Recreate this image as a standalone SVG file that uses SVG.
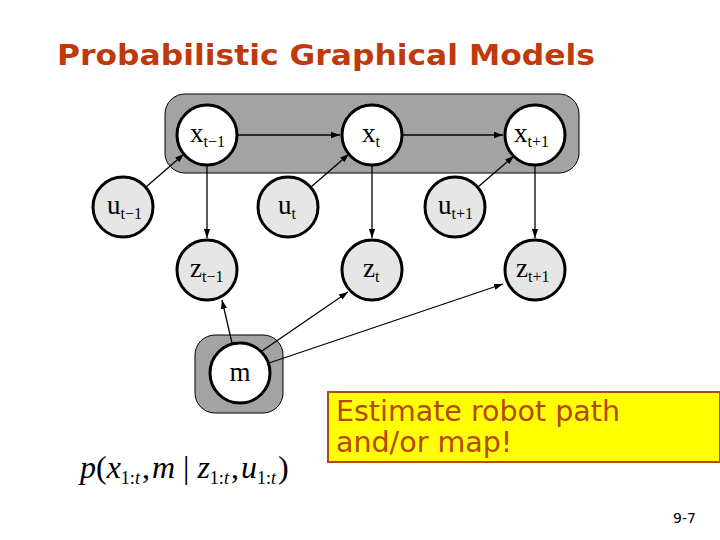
<svg xmlns="http://www.w3.org/2000/svg" width="720" height="540" viewBox="0 0 720 540">
<style>
.n{stroke:#000;stroke-width:3}
.w{fill:#fff}
.g{fill:#e6e6e6}
.lb{font-family:"Liberation Serif",serif;font-size:27px;fill:#000}
.sb{font-size:16px}
.e{stroke:#000;stroke-width:1.3;fill:none;marker-end:url(#ah)}
.sh{fill:#a3a3a3;stroke:#000;stroke-width:1}
.i{font-style:italic}
.s{font-size:18px}
</style>
<defs>
<marker id="ah" viewBox="0 0 10 10" refX="10" refY="5" markerWidth="9" markerHeight="9" markerUnits="userSpaceOnUse" orient="auto">
<path d="M0,1.5 L10,5 L0,8.5 z" fill="#000"/>
</marker>
</defs>
<rect width="720" height="540" fill="#fff"/>
<text x="57" y="65" font-family="Verdana,'DejaVu Sans',sans-serif" font-weight="bold" font-size="28" fill="#c0390b" textLength="538" lengthAdjust="spacingAndGlyphs">Probabilistic Graphical Models</text>
<rect class="sh" x="165" y="94" width="414" height="79" rx="20"/>
<rect class="sh" x="195" y="335" width="88" height="78" rx="20"/>
<g id="connectors">
<line class="e" x1="238" y1="135" x2="340" y2="135"/>
<line class="e" x1="403" y1="135" x2="503" y2="135"/>
<line class="e" x1="207" y1="166" x2="207" y2="238"/>
<line class="e" x1="372" y1="166" x2="372" y2="238"/>
<line class="e" x1="535" y1="166" x2="535" y2="238"/>
<line class="e" x1="146" y1="187" x2="184" y2="154"/>
<line class="e" x1="311" y1="187" x2="349" y2="154"/>
<line class="e" x1="478" y1="187" x2="514" y2="156"/>
<line class="e" x1="232" y1="343" x2="222" y2="300"/>
<line class="e" x1="262" y1="351" x2="348" y2="292"/>
<line class="e" x1="269" y1="363" x2="503" y2="284"/>
</g>
<g id="x_tm1"><circle class="n w" cx="207" cy="135" r="30"/><text class="lb" x="190" y="142">x<tspan class="sb" dy="5">t−1</tspan></text></g>
<g id="x_t"><circle class="n w" cx="372" cy="135" r="30"/><text class="lb" x="362" y="142">x<tspan class="sb" dy="5">t</tspan></text></g>
<g id="x_tp1"><circle class="n w" cx="535" cy="135" r="30"/><text class="lb" x="514" y="142">x<tspan class="sb" dy="5">t+1</tspan></text></g>
<g id="u_tm1"><circle class="n g" cx="123" cy="207" r="30"/><text class="lb" x="107" y="214">u<tspan class="sb" dy="5">t−1</tspan></text></g>
<g id="u_t"><circle class="n g" cx="288" cy="207" r="30"/><text class="lb" x="278" y="214">u<tspan class="sb" dy="5">t</tspan></text></g>
<g id="u_tp1"><circle class="n g" cx="455" cy="207" r="30"/><text class="lb" x="438" y="214">u<tspan class="sb" dy="5">t+1</tspan></text></g>
<g id="z_tm1"><circle class="n g" cx="207" cy="270" r="30"/><text class="lb" x="190" y="277">z<tspan class="sb" dy="5">t−1</tspan></text></g>
<g id="z_t"><circle class="n g" cx="372" cy="270" r="30"/><text class="lb" x="363" y="277">z<tspan class="sb" dy="5">t</tspan></text></g>
<g id="z_tp1"><circle class="n g" cx="535" cy="270" r="30"/><text class="lb" x="516" y="277">z<tspan class="sb" dy="5">t+1</tspan></text></g>
<g id="m"><circle class="n w" cx="240" cy="373" r="30"/><text class="lb" x="240" y="381" text-anchor="middle">m</text></g>
<g id="note">
<rect x="328" y="392" width="392" height="70" fill="#ffff00" stroke="#b5460f" stroke-width="2"/>
<text font-family="Verdana,'DejaVu Sans',sans-serif" font-size="28.5" fill="#b5460f"><tspan x="336" y="421">Estimate robot path</tspan><tspan x="336" y="452">and/or map!</tspan></text>
</g>
<text x="80" y="478" font-family="'Liberation Serif',serif" font-size="32" fill="#000"><tspan class="i">p</tspan>(<tspan class="i">x</tspan><tspan class="s" dy="6">1:<tspan class="i">t</tspan></tspan><tspan dy="-6" dx="2">,</tspan><tspan class="i" dx="2">m</tspan> | <tspan class="i">z</tspan><tspan class="s" dy="6">1:<tspan class="i">t</tspan></tspan><tspan dy="-6" dx="2">,</tspan><tspan class="i" dx="2">u</tspan><tspan class="s" dy="6">1:<tspan class="i">t</tspan></tspan><tspan dy="-6" dx="2">)</tspan></text>
<text x="673" y="523" font-family="Verdana,'DejaVu Sans',sans-serif" font-size="14" fill="#000">9-7</text>
</svg>
